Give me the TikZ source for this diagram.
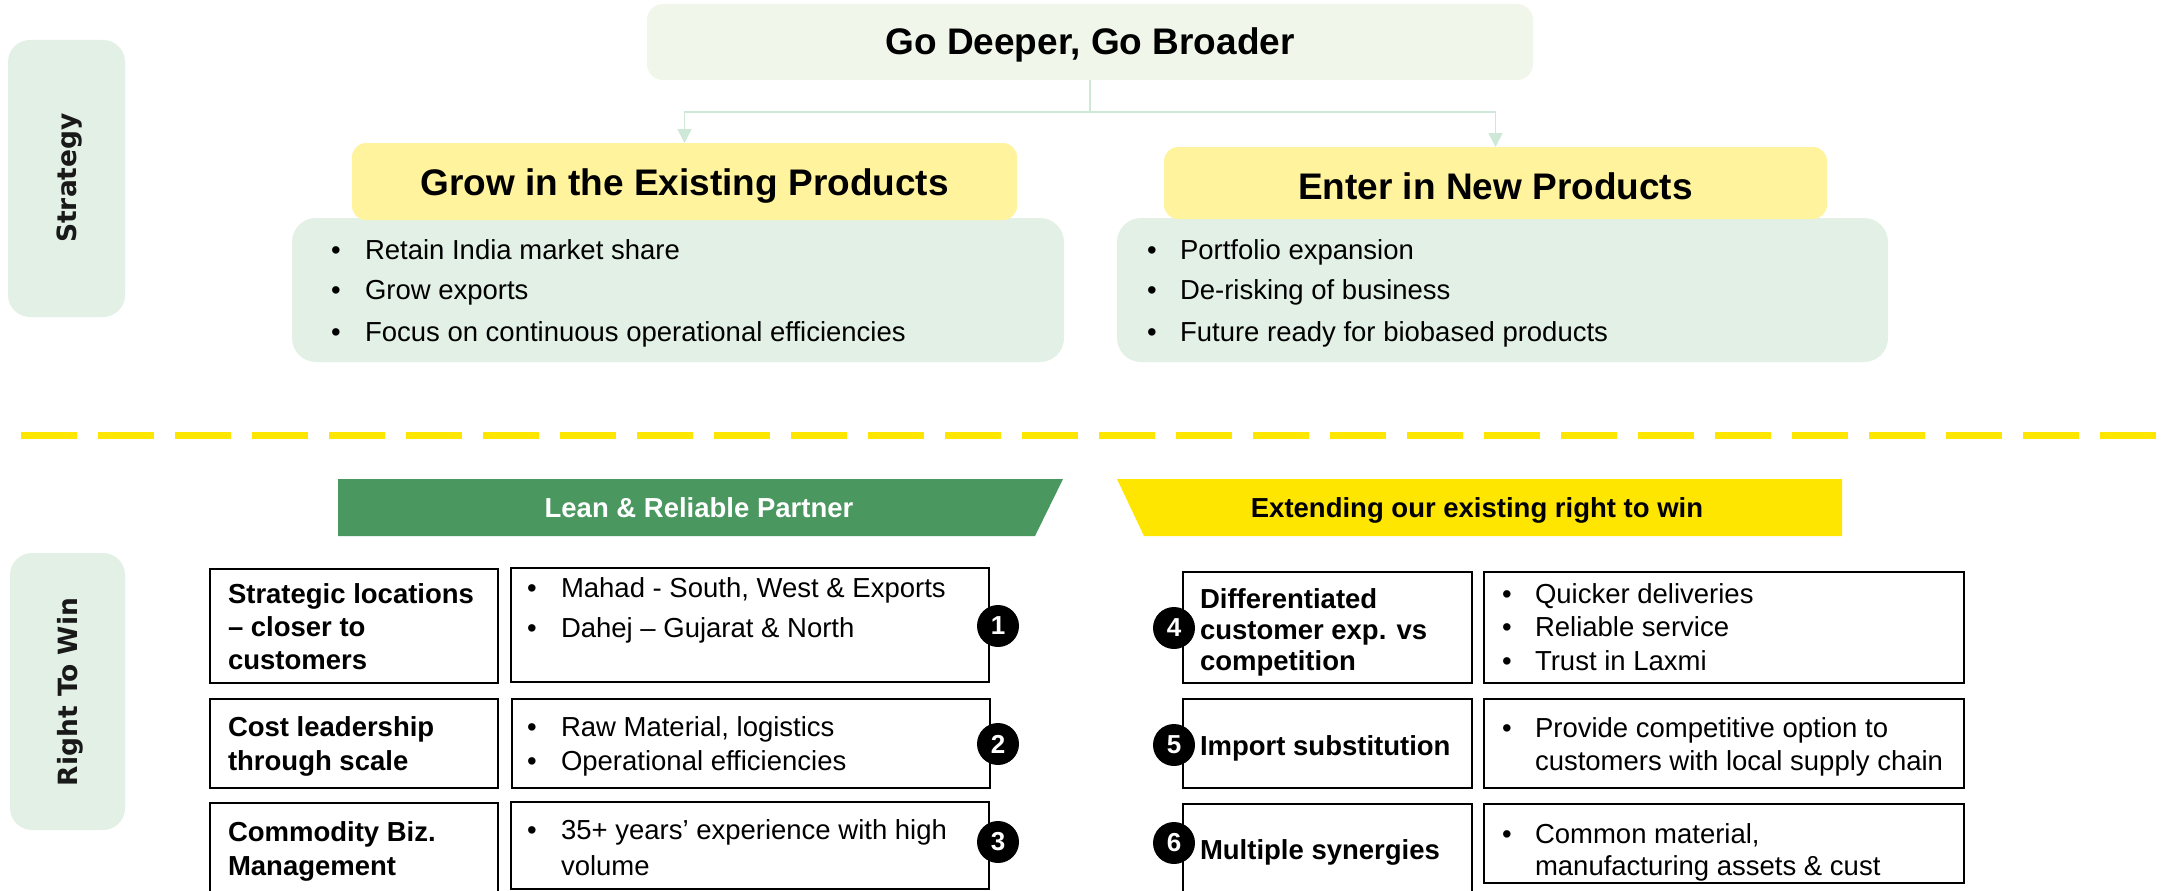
\documentclass[tikz,border=0pt]{standalone}
\usepackage{fontspec}
\setmainfont{Liberation Sans}
\newfontfamily\sidefont{DejaVu Sans}
\usetikzlibrary{arrows.meta}

\definecolor{topfill}{HTML}{F0F6E9}
\definecolor{headfill}{HTML}{FFF49D}
\definecolor{listfill}{HTML}{E2F0E5}
\definecolor{sidefill}{HTML}{E2F0E6}
\definecolor{leangreen}{HTML}{4A9760}
\definecolor{brightyellow}{HTML}{FFE600}
\definecolor{linkgreen}{HTML}{CDE8D6}

\newcommand\fbody{\fontsize{27.5}{33}\selectfont}
\newcommand\fhead{\fontsize{37}{44}\selectfont\bfseries}
\newcommand\fside{\sidefont\fontsize{26.5}{32}\selectfont\bfseries}

\begin{document}
\begin{tikzpicture}[x=1pt,y=-1pt,
  plate/.style={inner sep=0pt, outer sep=0pt, rounded corners=#1},
  plate/.default=18pt,
  sidebox/.style={plate=22pt, fill=sidefill},
  topbox/.style={plate=16pt, fill=topfill},
  headbox/.style={plate=14pt, fill=headfill},
  listbox/.style={plate=24pt, fill=listfill},
  cell/.style={draw=black, line width=2.5pt, inner sep=0pt, outer sep=0pt},
  txt/.style={inner sep=0pt, outer sep=0pt, anchor=base west, font=\fbody},
  btxt/.style={txt, font=\fbody\bfseries},
  dot/.style={inner sep=0pt, outer sep=0pt, anchor=base west, font=\fbody},
  numdot/.style={circle, fill=black, minimum size=42pt, inner sep=0pt,
    text=white, font=\fontsize{26}{30}\selectfont\bfseries},
  link/.style={draw=linkgreen, line width=1.6pt},
  linkarrow/.style={link, -{Triangle[width=14pt,length=14pt]}}
]
\useasboundingbox (0,0) rectangle (2163,891);
\clip (0,0) rectangle (2163,891);

% ---------- side labels ----------
\node[sidebox, minimum width=117pt, minimum height=277pt] (strat) at (66.5,178.5) {};
\node[rotate=90, font=\fside, text=black!90] (strattxt) at (70,178) {Strategy};
\node[sidebox, minimum width=115pt, minimum height=277pt] (rtw) at (67.5,691.5) {};
\node[rotate=90, font=\fside, text=black!90] (rtwtxt) at (70,692) {Right To Win};

% ---------- strategy tree ----------
\node[topbox, minimum width=886pt, minimum height=76pt] (top) at (1090,42) {};
\node[anchor=base, font=\fhead, inner sep=0pt] (toptxt) at (1090,55) {Go Deeper, Go Broader};

\node[listbox, minimum width=772pt, minimum height=144pt] (gnL) at (678,290) {};
\node[listbox, minimum width=771pt, minimum height=144pt] (gnR) at (1502.5,290) {};
\node[headbox, minimum width=665pt, minimum height=77pt] (ylL) at (684.5,181.5) {};
\node[headbox, minimum width=663pt, minimum height=72pt] (ylR) at (1495.5,183) {};
\node[anchor=base, font=\fhead, inner sep=0pt] (ylLtxt) at (684.5,195) {Grow in the Existing Products};
\node[anchor=base, font=\fhead, inner sep=0pt] (ylRtxt) at (1495.5,199) {Enter in New Products};

\coordinate (fork) at (1090,112);
\draw[link] (top.south) -- (fork);
\draw[linkarrow] (fork) -| (ylL.north);
\draw[linkarrow] (fork) -| (ylR.north);

% bullet lists under the two headings
\foreach \y/\t [count=\i] in {259/Retain India market share,299/Grow exports,341/Focus on continuous operational efficiencies}{
  \node[dot] (gLd\i) at (331,\y) {•};
  \node[txt] (gLt\i) at (365,\y) {\t};
}
\foreach \y/\t [count=\i] in {259/Portfolio expansion,299/De-risking of business,341/Future ready for biobased products}{
  \node[dot] (gRd\i) at (1147,\y) {•};
  \node[txt] (gRt\i) at (1180,\y) {\t};
}

% ---------- divider ----------
\coordinate (divL) at (21,435);
\coordinate (divR) at (2163,435);
\draw[brightyellow, line width=7pt, dash pattern=on 56pt off 21pt] (divL) -- (divR);

% ---------- banners ----------
\fill[leangreen] (338,479) -- (1063,479) -- (1035,536) -- (338,536) -- cycle;
\node[anchor=base, inner sep=0pt, text=white, font=\fbody\bfseries] (lean) at (699,517) {Lean \& Reliable Partner};
\fill[brightyellow] (1117,479) -- (1842,479) -- (1842,536) -- (1144,536) -- cycle;
\node[anchor=base, inner sep=0pt, font=\fbody\bfseries] (ext) at (1477,517) {Extending our existing right to win};

% ---------- left table ----------
\node[cell, minimum width=288pt, minimum height=114pt] (r1L) at (354,626) {};
\node[cell, minimum width=478pt, minimum height=114pt] (r1B) at (750,625) {};
\node[cell, minimum width=288pt, minimum height=89pt] (r2L) at (354,743.5) {};
\node[cell, minimum width=478pt, minimum height=89pt] (r2B) at (751,743.5) {};
\node[cell, minimum width=288pt, minimum height=117pt] (r3L) at (354,861.5) {};
\node[cell, minimum width=478pt, minimum height=87pt] (r3B) at (750,845.5) {};

\node[btxt] (l1a) at (228,603) {Strategic locations};
\node[btxt] (l1b) at (228,636) {– closer to};
\node[btxt] (l1c) at (228,669) {customers};
\node[btxt] (l2a) at (228,736) {Cost leadership};
\node[btxt] (l2b) at (228,770) {through scale};
\node[btxt] (l3a) at (228,841) {Commodity Biz.};
\node[btxt] (l3b) at (228,875) {Management};

\node[dot] (b1d1) at (527,597) {•};
\node[txt] (b1a) at (561,597) {Mahad - South, West \& Exports};
\node[dot] (b1d2) at (527,637) {•};
\node[txt] (b1b) at (561,637) {Dahej – Gujarat \& North};
\node[dot] (b2d1) at (527,736) {•};
\node[txt] (b2a) at (561,736) {Raw Material, logistics};
\node[dot] (b2d2) at (527,770) {•};
\node[txt] (b2b) at (561,770) {Operational efficiencies};
\node[dot] (b3d1) at (527,839) {•};
\node[txt] (b3a) at (561,839) {35+ years’ experience with high};
\node[txt] (b3b) at (561,875) {volume};

\node[numdot] (n1) at (998,626) {1};
\node[numdot] (n2) at (998,744) {2};
\node[numdot] (n3) at (998,842) {3};

% ---------- right table ----------
\node[cell, minimum width=289pt, minimum height=111pt] (r4L) at (1327.5,627.5) {};
\node[cell, minimum width=480pt, minimum height=111pt] (r4B) at (1724,627.5) {};
\node[cell, minimum width=289pt, minimum height=89pt] (r5L) at (1327.5,743.5) {};
\node[cell, minimum width=480pt, minimum height=89pt] (r5B) at (1724,743.5) {};
\node[cell, minimum width=289pt, minimum height=116pt] (r6L) at (1327.5,862) {};
\node[cell, minimum width=480pt, minimum height=79pt] (r6B) at (1724,843.5) {};

\node[btxt] (l4a) at (1200,608) {Differentiated};
\node[btxt] (l4b) at (1200,639) {customer exp. vs};
\node[btxt] (l4c) at (1200,670) {competition};
\node[btxt] (l5a) at (1200,755) {Import substitution};
\node[btxt] (l6a) at (1200,859) {Multiple synergies};

\node[dot] (b4d1) at (1502,603) {•};
\node[txt] (b4a) at (1535,603) {Quicker deliveries};
\node[dot] (b4d2) at (1502,636) {•};
\node[txt] (b4b) at (1535,636) {Reliable service};
\node[dot] (b4d3) at (1502,670) {•};
\node[txt] (b4c) at (1535,670) {Trust in Laxmi};
\node[dot] (b5d1) at (1502,737) {•};
\node[txt] (b5a) at (1535,737) {Provide competitive option to};
\node[txt] (b5b) at (1535,770) {customers with local supply chain};
\node[dot] (b6d1) at (1502,843) {•};
\node[txt] (b6a) at (1535,843) {Common material,};
\node[txt] (b6b) at (1535,875) {manufacturing assets \& cust};

\node[numdot] (n4) at (1174,628) {4};
\node[numdot] (n5) at (1174,745) {5};
\node[numdot] (n6) at (1174,843) {6};
\end{tikzpicture}
\end{document}
